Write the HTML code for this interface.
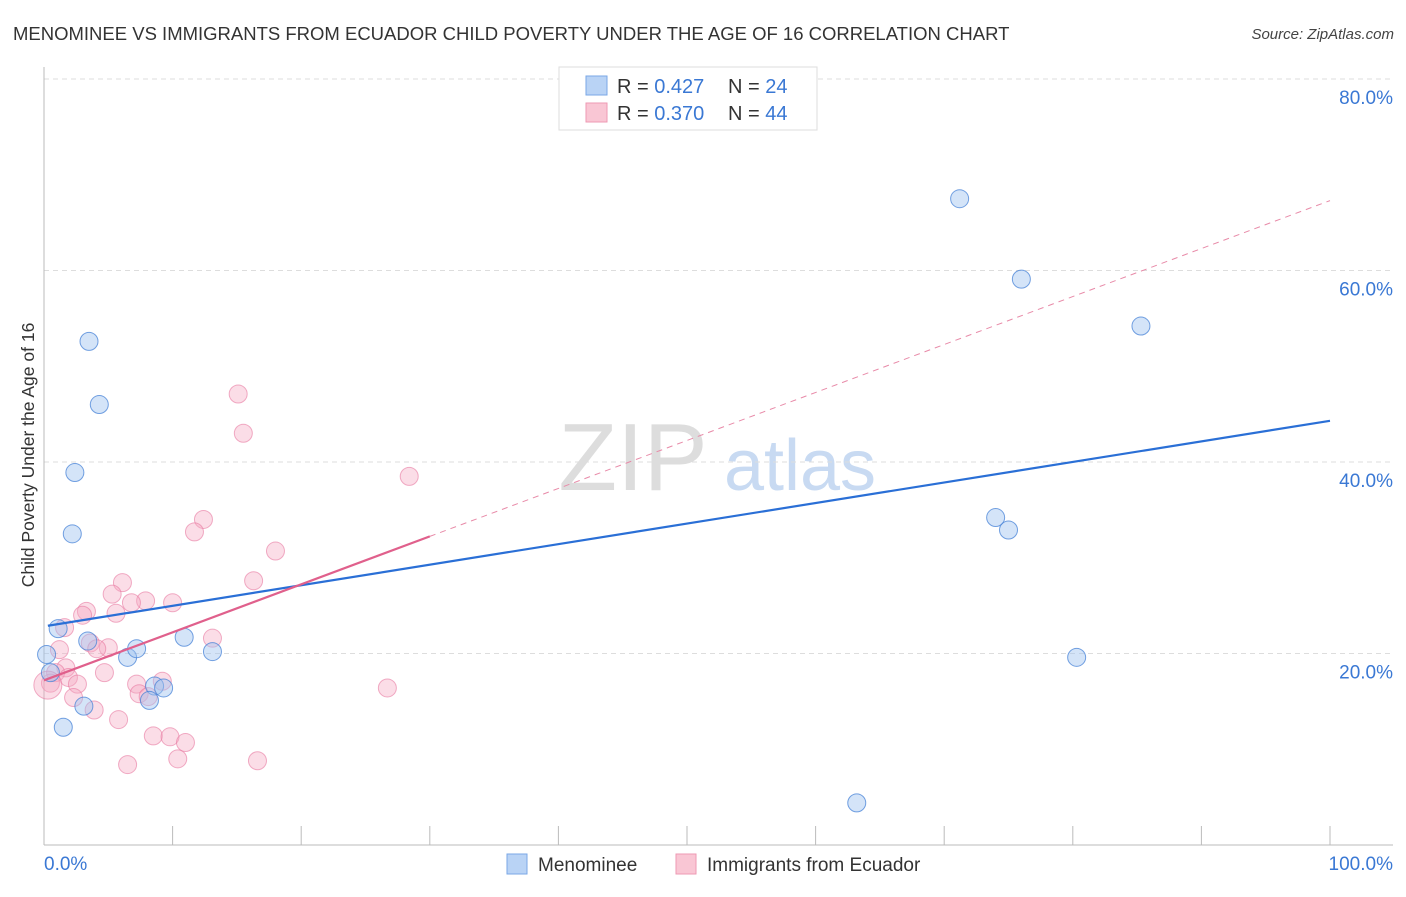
<!DOCTYPE html>
<html><head><meta charset="utf-8">
<style>
body{margin:0;background:#fff;font-family:"Liberation Sans",sans-serif;}
svg text{font-family:"Liberation Sans",sans-serif;}
</style></head>
<body>
<svg id="chart" width="1406" height="892" xmlns="http://www.w3.org/2000/svg">
<text x="13" y="40" font-size="18.5" fill="#333">MENOMINEE VS IMMIGRANTS FROM ECUADOR CHILD POVERTY UNDER THE AGE OF 16 CORRELATION CHART</text>
<text x="1394" y="39" font-size="15" fill="#444" text-anchor="end" font-style="italic">Source: ZipAtlas.com</text>
<g>
<text x="633" y="490" font-size="96" fill="#ddd" font-family="Liberation Serif,serif" text-anchor="middle">ZIP</text>
<text x="800" y="490" font-size="72" fill="#c8daf2" text-anchor="middle">atlas</text>
</g>
<g id="grid"></g>
<g id="axes"></g>
<g id="points"></g>
<g id="lines"></g>
<text transform="translate(34,455) rotate(-90)" font-size="17.5" fill="#333" text-anchor="middle">Child Poverty Under the Age of 16</text>
<g>
<rect x="559" y="67" width="258" height="63" fill="#fff" stroke="#ddd"/>
<rect x="586" y="76" width="21" height="19" fill="#b9d3f5" stroke="#7aa7e6"/>
<rect x="586" y="103" width="21" height="19" fill="#f9c6d4" stroke="#ee99b3"/>
<text x="617" y="93" font-size="20" fill="#333">R = <tspan fill="#3a78d4">0.427</tspan></text>
<text x="728" y="93" font-size="20" fill="#333">N = <tspan fill="#3a78d4">24</tspan></text>
<text x="617" y="120" font-size="20" fill="#333">R = <tspan fill="#3a78d4">0.370</tspan></text>
<text x="728" y="120" font-size="20" fill="#333">N = <tspan fill="#3a78d4">44</tspan></text>
</g>
<g>
<rect x="507" y="854" width="20" height="20" fill="#b9d3f5" stroke="#7aa7e6"/>
<text x="538" y="871" font-size="19" fill="#333">Menominee</text>
<rect x="676" y="854" width="20" height="20" fill="#f9c6d4" stroke="#ee99b3"/>
<text x="707" y="871" font-size="19" fill="#333">Immigrants from Ecuador</text>
</g>
</svg>
<script>
const xTicks=[0,10,20,30,40,50,60,70,80,90,100];
const yTicks=[20,40,60,80];
const blueX=[3.5,4.3,2.4,2.2,1.1,3.4,0.2,6.5,7.2,10.9,13.1,8.6,9.3,8.2,3.1,1.5,0.5,71.2,76.0,85.3,74.0,75.0,80.3,63.2];
const blueY=[52.6,46.0,38.9,32.5,22.6,21.3,19.9,19.6,20.5,21.7,20.2,16.6,16.4,15.1,14.5,12.3,18.0,67.5,59.1,54.2,34.2,32.9,19.6,4.4];
const pinkX=[15.1,15.5,28.4,12.4,11.7,18.0,6.1,16.3,5.3,7.9,6.8,10.0,3.3,3.0,5.6,1.6,3.6,13.1,5.0,4.1,1.2,1.7,0.9,4.7,1.9,0.5,2.6,9.2,7.2,26.7,7.4,8.1,2.3,3.9,5.8,8.5,9.8,11.0,10.4,16.6,6.5,0.3];
const pinkY=[47.1,43.0,38.5,34.0,32.7,30.7,27.4,27.6,26.2,25.5,25.3,25.3,24.4,24.0,24.2,22.7,21.1,21.6,20.6,20.5,20.4,18.5,18.0,18.0,17.5,16.9,16.8,17.1,16.8,16.4,15.8,15.5,15.4,14.1,13.1,11.4,11.3,10.7,9.0,8.8,8.4,16.7];
const blueTrend=[22.9,44.3];
const pinkTrend=[17.2,67.3];
const pinkSolidEnd=30;
const X=v=>44+v*12.86, Y=v=>845-v*9.575;
const NS="http://www.w3.org/2000/svg";
function mk(tag,attrs,parent){const e=document.createElementNS(NS,tag);for(const k in attrs)e.setAttribute(k,attrs[k]);document.getElementById(parent).appendChild(e);return e;}
yTicks.forEach(t=>{
 const g=mk('line',{x1:44,x2:1393,y1:Y(t),y2:Y(t),stroke:'#ddd','stroke-dasharray':'5,4'},'grid');
 
 
 const l=mk('text',{x:1393,y:Y(t)+25,'font-size':19,fill:'#3a78d4','text-anchor':'end'},'grid');
 l.textContent=t.toFixed(1)+'%';
 
 
});
const ax=mk('line',{x1:44,x2:1393,y1:845,y2:845,stroke:'#bbb'},'axes');


const ay=mk('line',{x1:44,x2:44,y1:67,y2:845,stroke:'#bbb'},'axes');


xTicks.forEach(t=>{
 const k=mk('line',{x1:X(t),x2:X(t),y1:826,y2:845,stroke:'#bbb'},'axes');
 
 
});
const x0=mk('text',{x:44,y:870,'font-size':19,fill:'#3a78d4'},'axes');x0.textContent='0.0%';


const x1=mk('text',{x:1393,y:870,'font-size':19,fill:'#3a78d4','text-anchor':'end'},'axes');x1.textContent='100.0%';


pinkX.forEach((v,i)=>{
 const c=mk('circle',{cx:X(v),cy:Y(pinkY[i]),r:i==pinkX.length-1?14:9,fill:'rgba(246,170,195,0.4)',stroke:'rgba(232,120,160,0.6)','stroke-width':1},'points');
 
 
});
blueX.forEach((v,i)=>{
 const c=mk('circle',{cx:X(v),cy:Y(blueY[i]),r:9,fill:'rgba(160,195,240,0.45)',stroke:'rgba(70,130,215,0.75)','stroke-width':1},'points');
 
 
});
const py=x=>pinkTrend[0]+(pinkTrend[1]-pinkTrend[0])*x/100;
const bl=mk('line',{x1:X(0.3),y1:Y(blueTrend[0]),x2:X(100),y2:Y(blueTrend[1]),stroke:'#2a6fd6','stroke-width':2.2},'lines');


const pd=mk('line',{x1:X(pinkSolidEnd),y1:Y(py(pinkSolidEnd)),x2:X(100),y2:Y(py(100)),stroke:'#e88aa8','stroke-width':1,'stroke-dasharray':'6,5'},'lines');


const ps=mk('line',{x1:X(0),y1:Y(py(0)),x2:X(pinkSolidEnd),y2:Y(py(pinkSolidEnd)),stroke:'#e0608c','stroke-width':2.2},'lines');


</script>
</body></html>
